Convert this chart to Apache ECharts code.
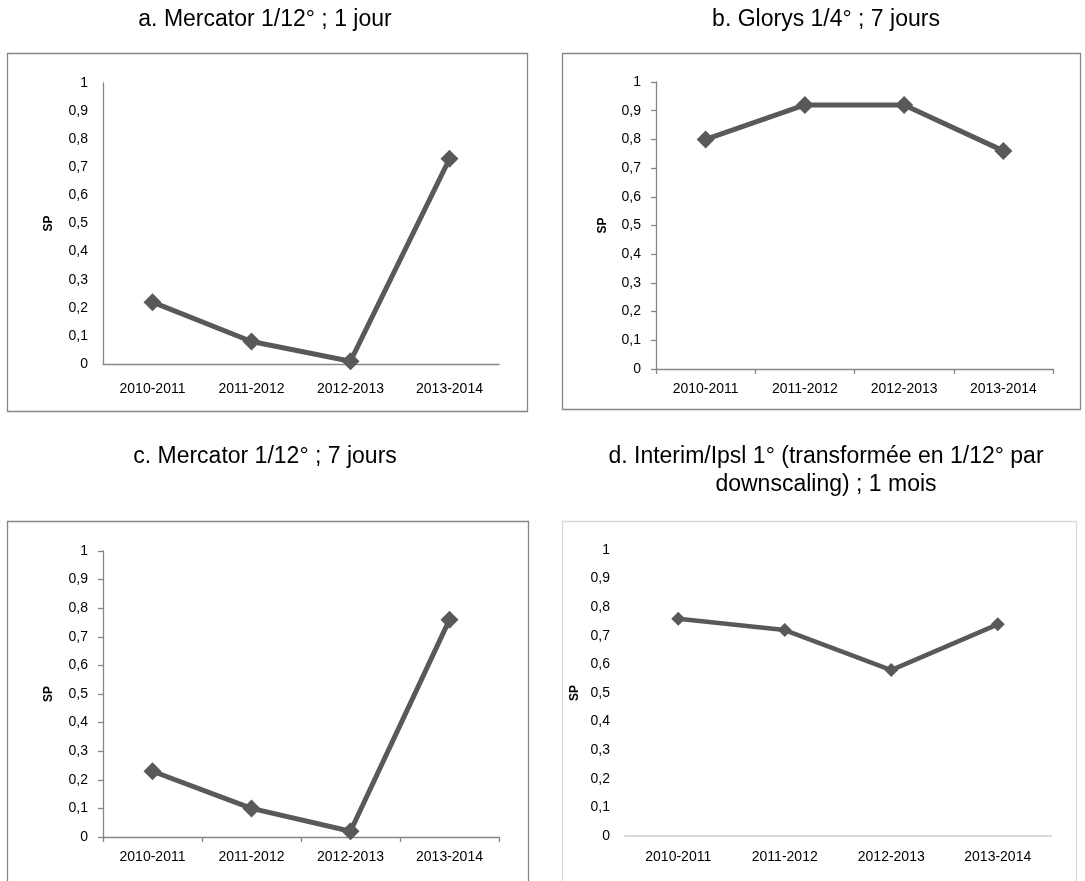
<!DOCTYPE html>
<html>
<head>
<meta charset="utf-8">
<script src="https://cdn.jsdelivr.net/npm/echarts@6/dist/echarts.min.js"></script>
<style>
html,body{margin:0;padding:0;background:#fff;}
#main{width:1085px;height:881px;}
</style>
</head>
<body>
<div id="main"></div>
<script>
const categories = ['2010-2011', '2011-2012', '2012-2013', '2013-2014'];
const yTickLabels = ['0', '0,1', '0,2', '0,3', '0,4', '0,5', '0,6', '0,7', '0,8', '0,9', '1'];
const titles = [
  ['a. Mercator 1/12° ; 1 jour'],
  ['b. Glorys 1/4° ; 7 jours'],
  ['c. Mercator 1/12° ; 7 jours'],
  ['d. Interim/Ipsl 1° (transformée en 1/12° par', 'downscaling) ; 1 mois']
];
const axisName = 'SP';
const valuesA = [0.22, 0.08, 0.01, 0.73];
const valuesB = [0.80, 0.92, 0.92, 0.76];
const valuesC = [0.23, 0.10, 0.02, 0.76];
const valuesD = [0.76, 0.72, 0.58, 0.74];

const FONT = "'Liberation Sans', Arial, sans-serif";
const LINE = '#595959';
const AX = '#868686';

const panels = [
  {vals: valuesA, grid: {left: 103, top: 83, width: 396, height: 281}, box: [7, 53, 520, 358], boxColor: AX, axisColor: AX, yLine: true, ticks: false, xMargin: 18, sym: 18, lw: 5, titleX: 265, titleY: 20, nameGap: 48},
  {vals: valuesB, grid: {left: 656, top: 82, width: 397, height: 287}, box: [562, 53, 518, 356], boxColor: AX, axisColor: AX, yLine: true, ticks: true, xMargin: 13, sym: 18, lw: 5, titleX: 826, titleY: 20, nameGap: 47},
  {vals: valuesC, grid: {left: 103, top: 551, width: 396, height: 286}, box: [7, 521, 521, 380], boxColor: AX, axisColor: AX, yLine: true, ticks: true, xMargin: 13, sym: 18, lw: 5, titleX: 265, titleY: 457, nameGap: 48},
  {vals: valuesD, grid: {left: 625, top: 550, width: 426, height: 286}, box: [562, 521, 514, 380], boxColor: '#d9d9d9', axisColor: '#d9d9d9', yLine: false, ticks: false, xMargin: 14, sym: 14, lw: 4.5, titleX: 826, titleY: 457, nameGap: 44}
];

const grid = [], xAxis = [], yAxis = [], series = [], graphic = [];
panels.forEach((p, i) => {
  graphic.push({
    type: 'rect', silent: true, z: -1,
    shape: {x: p.box[0] + 0.5, y: p.box[1] + 0.5, width: p.box[2], height: p.box[3]},
    style: {fill: '#fff', stroke: p.boxColor, lineWidth: 1.3}
  });
  titles[i].forEach((t, k) => {
    graphic.push({
      type: 'text', silent: true,
      x: p.titleX, y: p.titleY + k * 28,
      style: {text: t, align: 'center', verticalAlign: 'middle', textAlign: 'center', textVerticalAlign: 'middle',
        font: '23px ' + FONT, fill: '#000'}
    });
  });
  grid.push(Object.assign({containLabel: false}, p.grid));
  xAxis.push({
    type: 'category', gridIndex: i, data: categories, boundaryGap: true,
    axisLine: {show: true, lineStyle: {color: p.axisColor, width: i === 3 ? 2 : 1.3}},
    axisTick: {show: p.ticks, length: 5, inside: false, lineStyle: {color: AX, width: 1.3}},
    axisLabel: {color: '#000', fontSize: 14, fontFamily: FONT, margin: p.xMargin, interval: 0},
    splitLine: {show: false}
  });
  yAxis.push({
    type: 'value', gridIndex: i, min: 0, max: 1, interval: 0.1,
    name: axisName, nameLocation: 'middle', nameRotate: 90, nameGap: p.nameGap,
    nameTextStyle: {color: '#000', fontSize: 12, fontWeight: 'bold', fontFamily: FONT},
    axisLine: {show: p.yLine, lineStyle: {color: AX, width: 1.3}},
    axisTick: {show: p.ticks, length: 5, lineStyle: {color: AX, width: 1.3}},
    axisLabel: {color: '#000', fontSize: 14, fontFamily: FONT, margin: 15,
      formatter: v => yTickLabels[Math.round(v * 10)]},
    splitLine: {show: false}
  });
  series.push({
    type: 'line', xAxisIndex: i, yAxisIndex: i, data: p.vals,
    symbol: 'diamond', symbolSize: p.sym, showSymbol: true,
    lineStyle: {color: LINE, width: p.lw},
    itemStyle: {color: LINE},
    animation: false
  });
});

const chart = echarts.init(document.getElementById('main'), null, {renderer: 'canvas'});
chart.setOption({
  backgroundColor: '#fff',
  animation: false,
  graphic: graphic,
  grid: grid, xAxis: xAxis, yAxis: yAxis, series: series
});
</script>
</body>
</html>
